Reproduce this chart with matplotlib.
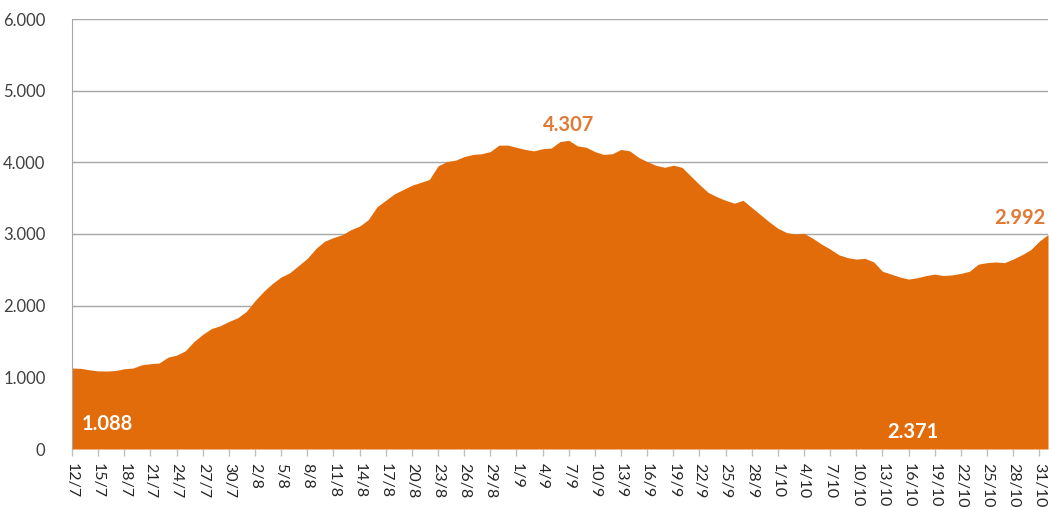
""" plot.py - daily series 12/7 to 1/11, area chart """
import pandas as pd
import matplotlib.pyplot as plt

plt.rcParams['font.family'] = ['Lato', 'DejaVu Sans']

# first day of the series and daily values
start_day = '2020-07-12'
values = [
    1130, 1125, 1105, 1090, 1088, 1095, 1120, 1130, 1175, 1190,
    1200, 1280, 1310, 1370, 1500, 1600, 1680, 1720, 1780, 1830,
    1920, 2070, 2200, 2310, 2400, 2460, 2560, 2660, 2800, 2900,
    2950, 2990, 3060, 3110, 3200, 3380, 3470, 3560, 3620, 3680,
    3720, 3760, 3950, 4010, 4030, 4080, 4110, 4120, 4150, 4240,
    4240, 4210, 4180, 4160, 4190, 4200, 4290, 4307, 4230, 4210,
    4150, 4110, 4120, 4180, 4160, 4070, 4010, 3960, 3930, 3960,
    3930, 3810, 3690, 3580, 3520, 3470, 3430, 3470, 3370, 3270,
    3170, 3080, 3020, 3000, 3010, 2940, 2860, 2790, 2710, 2670,
    2650, 2660, 2610, 2480, 2440, 2400, 2371, 2390, 2420, 2440,
    2420, 2430, 2450, 2480, 2580, 2600, 2610, 2600, 2650, 2710,
    2780, 2900, 2992,
]
y_ticks = [0, 1000, 2000, 3000, 4000, 5000, 6000]
y_labels = ['0', '1.000', '2.000', '3.000', '4.000', '5.000', '6.000']

days = pd.date_range(start_day, periods=len(values))
day_labels = [f"{d.day}/{d.month}" for d in days]
x = list(range(len(values)))

def fmt(v):
    return f"{v:,}".replace(',', '.')

i_min_start = values.index(min(values[:20]))
i_max = values.index(max(values))
i_min_end = values.index(min(values[80:]))
i_last = len(values) - 1

fig = plt.figure(figsize=(10.49, 5.07), dpi=100)
ax = fig.add_axes([72/1049, 58/507, 976/1049, 430/507])

orange = '#E36C0A'
ax.fill_between(x, values, 0, color=orange, lw=0, zorder=2)

ax.set_xlim(0, i_last)
ax.set_ylim(0, 6000)
ax.set_yticks(y_ticks)
ax.set_yticklabels(y_labels)
ax.set_xticks(x[::3])
ax.set_xticklabels(day_labels[::3], rotation=-90, va='top', ha='center')
ax.grid(axis='y', color='#A6A6A6', lw=1, zorder=1)

for s in ['top', 'right', 'bottom']:
    ax.spines[s].set_visible(False)
ax.spines['left'].set_color('#A6A6A6')
ax.tick_params(axis='y', length=0, pad=19, labelsize=12, labelcolor='#404040')
ax.tick_params(axis='x', length=5, width=1, color='#BFBFBF', pad=5,
               labelsize=11.5, labelcolor='#262626')

# value labels
ax.text(i_min_start, 350, fmt(values[i_min_start]), color='white',
        fontsize=14.5, fontweight='bold', ha='center', va='center', zorder=3)
ax.text(i_max, values[i_max] + 80, fmt(values[i_max]), color='#E07A36',
        fontsize=14.5, fontweight='bold', ha='center', va='bottom', zorder=3)
ax.text(i_min_end + 0.5, 240, fmt(values[i_min_end]), color='white',
        fontsize=14.5, fontweight='bold', ha='center', va='center', zorder=3)
ax.text(i_last - 0.3, values[i_last] + 90, fmt(values[i_last]), color='#E07A36',
        fontsize=14.5, fontweight='bold', ha='right', va='bottom', zorder=3)

fig.savefig('out.png', dpi=100)
